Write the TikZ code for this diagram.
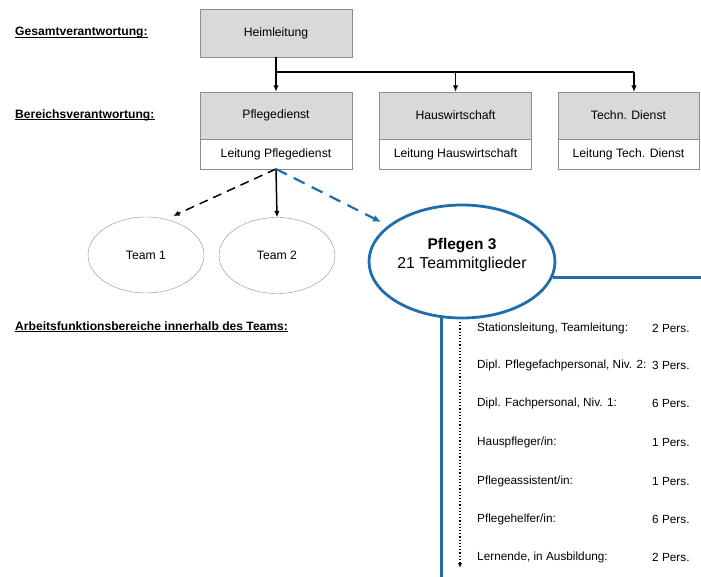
\documentclass[tikz,border=0pt]{standalone}
\usepackage{fontspec}
\setmainfont{Liberation Sans}
\usetikzlibrary{shapes.geometric,arrows.meta}
\definecolor{boxgray}{HTML}{D9D9D9}
\definecolor{edgegray}{HTML}{8C8C8C}
\definecolor{teamblue}{HTML}{1F6EAB}
\tikzset{
  headbox/.style={draw=edgegray, fill=boxgray, minimum width=152pt, minimum height=47pt, inner sep=0pt, font=\fontsize{12.2}{14}\selectfont},
  subbox/.style={draw=edgegray, fill=white, minimum width=152pt, minimum height=30pt, inner sep=0pt, font=\fontsize{12.2}{14}\selectfont},
  team/.style={ellipse, draw=edgegray, minimum width=116pt, minimum height=76pt, inner sep=0pt, font=\fontsize{12.2}{14}\selectfont},
  sectionlabel/.style={anchor=west, inner sep=0pt, font=\bfseries\fontsize{12.1}{14}\selectfont},
  listitem/.style={anchor=west, inner sep=0pt, font=\fontsize{11.8}{14}\selectfont},
  tip/.style={-{Latex[length=6.5pt,width=5.5pt]}},
  conn/.style={line width=1.5pt, black},
  uline/.style={line width=0.9pt, black},
}
\begin{document}
\begin{tikzpicture}[x=1pt,y=-1pt]
\useasboundingbox (0,0) rectangle (701,577);

% section headings, underlined just below the baseline
\node[sectionlabel] (lg) at (15,33) {Gesamtverantwortung:};
\node[sectionlabel] (lb) at (15,115) {Bereichsverantwortung:};
\node[sectionlabel] (la) at (15,326) {Arbeitsfunktionsbereiche innerhalb des Teams:};
\foreach \h in {lg,lb,la}
  \draw[uline] ([yshift=-1.6pt]\h.base west) -- ([yshift=-1.6pt]\h.base east);

% management boxes
\node[headbox, minimum height=48pt] (heim) at (276,33) {Heimleitung};
\node[headbox] (pflege) at (276,115.5) {Pflegedienst};
\node[subbox, anchor=north] (lpflege) at (pflege.south) {Leitung Pflegedienst};
\node[headbox] (haus) at (455.5,115.5) {Hauswirtschaft};
\node[subbox, anchor=north] (lhaus) at (haus.south) {Leitung Hauswirtschaft};
\node[headbox, minimum width=141pt] (tech) at (628.5,115.5) {Techn. Dienst};
\node[subbox, anchor=north, minimum width=141pt] (ltech) at (tech.south) {Leitung Tech. Dienst};

% distribution bus
\coordinate (bus) at (276,72);
\coordinate (techtop) at (634,92);
\draw[conn, tip] (heim.south) -- (pflege.north);
\draw[conn] (bus) -- (bus -| techtop);
\draw[conn, tip] (bus -| haus.north) -- (haus.north);
\draw[conn, tip] (bus -| techtop) -- (techtop);

% teams
\node[team] (t1) at (146,255) {Team 1};
\node[team] (t2) at (277,255.5) {Team 2};
\node[ellipse, draw=teamblue, line width=2.8pt, fill=white, minimum width=186pt, minimum height=113pt, inner sep=0pt] (p3) at (462,261.5) {};
\node[align=center, inner sep=0pt] (p3text) at (462,255)
  {{\bfseries\fontsize{15.5}{18}\selectfont Pflegen 3}\\[3pt]{\fontsize{15.8}{18}\selectfont 21 Teammitglieder}};

\coordinate (lp) at (276,169);
\coordinate (t1in) at (173,216);
\coordinate (p3in) at (381,222);
\draw[conn, dash pattern=on 9pt off 6pt, tip] (lp) -- (t1in);
\draw[conn, tip] (lp) -- (t2.north);
\draw[teamblue, line width=2.2pt, dash pattern=on 12pt off 8pt, -{Latex[length=8pt,width=7pt]}] (lp) -- (p3in);

% team frame lines
\coordinate (rightend) at (701,277);
\coordinate (bottomend) at (442,577);
\draw[teamblue, line width=2.8pt] (p3.-10) -- (p3.-10 -| rightend);
\draw[teamblue, line width=2.8pt] (p3.-110) -- (p3.-110 |- bottomend);

% functions within the team
\coordinate (dtop) at (460,322);
\coordinate (dbot) at (460,568);
\draw[line width=1.2pt, dotted, -{Latex[length=5pt,width=4pt]}] (dtop) -- (dbot);

\node[listitem] (f1) at (477,328) {Stationsleitung, Teamleitung:};
\node[listitem] (f2) at (477,365) {Dipl. Pflegefachpersonal, Niv. 2:};
\node[listitem] (f3) at (477,403) {Dipl. Fachpersonal, Niv. 1:};
\node[listitem] (f4) at (477,442) {Hauspfleger/in:};
\node[listitem] (f5) at (477,481) {Pflegeassistent/in:};
\node[listitem] (f6) at (477,519) {Pflegehelfer/in:};
\node[listitem] (f7) at (477,557) {Lernende, in Ausbildung:};
\node[listitem] (n1) at (652,328) {2 Pers.};
\node[listitem] (n2) at (652,365) {3 Pers.};
\node[listitem] (n3) at (652,403) {6 Pers.};
\node[listitem] (n4) at (652,442) {1 Pers.};
\node[listitem] (n5) at (652,481) {1 Pers.};
\node[listitem] (n6) at (652,519) {6 Pers.};
\node[listitem] (n7) at (652,557) {2 Pers.};
\end{tikzpicture}
\end{document}
